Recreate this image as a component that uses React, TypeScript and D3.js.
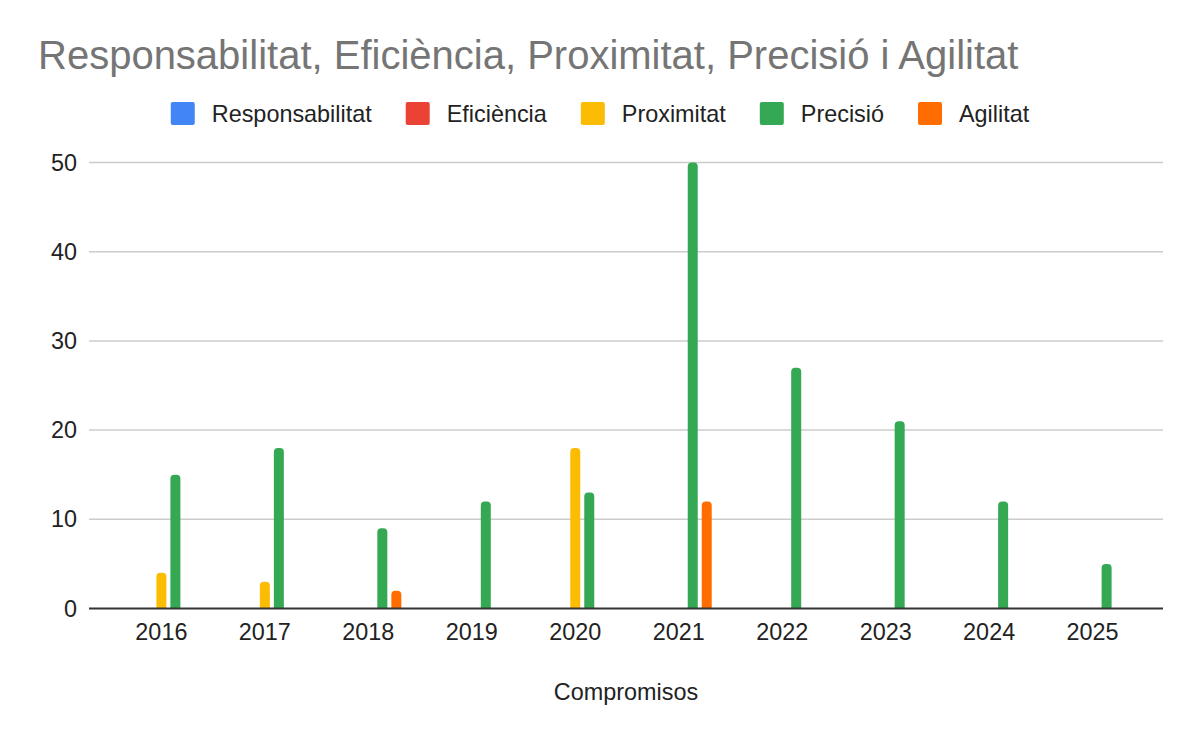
import { useRef, useEffect } from 'react';
import * as d3 from 'd3';

const years = ['2016', '2017', '2018', '2019', '2020', '2021', '2022', '2023', '2024', '2025'];
const seriesNames = ['Responsabilitat', 'Eficiència', 'Proximitat', 'Precisió', 'Agilitat'];
const seriesColors = ['#4285F4', '#EA4335', '#FBBC04', '#34A853', '#FF6D01'];

const responsabilitat = [0, 0, 0, 0, 0, 0, 0, 0, 0, 0];
const eficiencia = [0, 0, 0, 0, 0, 0, 0, 0, 0, 0];
const proximitat = [4, 3, 0, 0, 18, 0, 0, 0, 0, 0];
const precisio = [15, 18, 9, 12, 13, 50, 27, 21, 12, 5];
const agilitat = [0, 0, 2, 0, 0, 12, 0, 0, 0, 0];

const yTicks = [0, 10, 20, 30, 40, 50];

const W = 1200;
const H = 742;
const FONT = '"Liberation Sans", Arial, sans-serif';

function barPath(x: number, y: number, w: number, h: number, r: number) {
  const rr = Math.min(r, h, w / 2);
  return `M${x},${y + h}V${y + rr}Q${x},${y} ${x + rr},${y}H${x + w - rr}Q${x + w},${y} ${x + w},${y + rr}V${y + h}Z`;
}

export default function App() {
  const svgRef = useRef<SVGSVGElement>(null);

  useEffect(() => {
    if (!svgRef.current) return;
    const svg = d3.select(svgRef.current);
    svg.selectAll('*').remove();

    const values = [responsabilitat, eficiencia, proximitat, precisio, agilitat];

    const x0 = d3.scaleBand<string>().domain(years).range([90, 1164]).paddingInner(0).paddingOuter(0.19);
    const x1 = d3.scaleBand<string>().domain(seriesNames).range([-35, 35]).paddingInner(0.2857).paddingOuter(0.143);
    const y = d3.scaleLinear().domain([0, 50]).range([608.5, 162.5]);

    // Title
    svg.append('text')
      .attr('x', 38)
      .attr('y', 69)
      .attr('font-family', FONT)
      .attr('font-size', 40)
      .attr('fill', '#757575')
      .text('Responsabilitat, Eficiència, Proximitat, Precisió i Agilitat');

    // Legend
    const legend = svg.append('g');
    const items = seriesNames.map((name, i) => {
      const g = legend.append('g');
      g.append('rect')
        .attr('width', 24).attr('height', 23).attr('rx', 2)
        .attr('y', 102)
        .attr('fill', seriesColors[i]);
      const t = g.append('text')
        .attr('x', 41)
        .attr('y', 122)
        .attr('font-family', FONT)
        .attr('font-size', 23.4)
        .attr('fill', '#222')
        .text(name);
      const tw = (t.node() as SVGTextElement).getComputedTextLength();
      return { g, w: 41 + tw };
    });
    const gap = 34;
    const total = d3.sum(items, (d) => d.w) + gap * (items.length - 1);
    let cx = W / 2 - total / 2;
    items.forEach((it) => {
      it.g.attr('transform', `translate(${cx},0)`);
      cx += it.w + gap;
    });

    // Gridlines
    svg.append('g')
      .selectAll('line')
      .data(yTicks.filter((t) => t !== 0))
      .join('line')
      .attr('x1', 89).attr('x2', 1163)
      .attr('y1', (d) => y(d)).attr('y2', (d) => y(d))
      .attr('stroke', '#cccccc')
      .attr('stroke-width', 1.5);

    // Y tick labels
    svg.append('g')
      .selectAll('text')
      .data(yTicks)
      .join('text')
      .attr('x', 77)
      .attr('y', (d) => y(d) + 8)
      .attr('text-anchor', 'end')
      .attr('font-family', FONT)
      .attr('font-size', 23.4)
      .attr('fill', '#222')
      .text((d) => d);

    // Bars
    const bars = svg.append('g');
    years.forEach((yr, i) => {
      const cxCat = (x0(yr) ?? 0) + x0.bandwidth() / 2;
      seriesNames.forEach((s, k) => {
        const v = values[k][i];
        if (!v) return;
        const bx = cxCat + (x1(s) ?? 0);
        const by = y(v);
        bars.append('path')
          .attr('d', barPath(bx, by, x1.bandwidth(), y(0) - by, 4))
          .attr('fill', seriesColors[k]);
      });
    });

    // Baseline
    svg.append('line')
      .attr('x1', 89).attr('x2', 1163)
      .attr('y1', y(0)).attr('y2', y(0))
      .attr('stroke', '#333333')
      .attr('stroke-width', 2);

    // X tick labels
    svg.append('g')
      .selectAll('text')
      .data(years)
      .join('text')
      .attr('x', (d) => (x0(d) ?? 0) + x0.bandwidth() / 2)
      .attr('y', 640)
      .attr('text-anchor', 'middle')
      .attr('font-family', FONT)
      .attr('font-size', 23.4)
      .attr('fill', '#222')
      .text((d) => d);

    // X axis title
    svg.append('text')
      .attr('x', 626)
      .attr('y', 700)
      .attr('text-anchor', 'middle')
      .attr('font-family', FONT)
      .attr('font-size', 23.4)
      .attr('fill', '#222')
      .text('Compromisos');
  }, []);

  return (
    <svg
      ref={svgRef}
      width={W}
      height={H}
      style={{ position: 'absolute', left: 0, top: 0, background: '#fff' }}
    />
  );
}
